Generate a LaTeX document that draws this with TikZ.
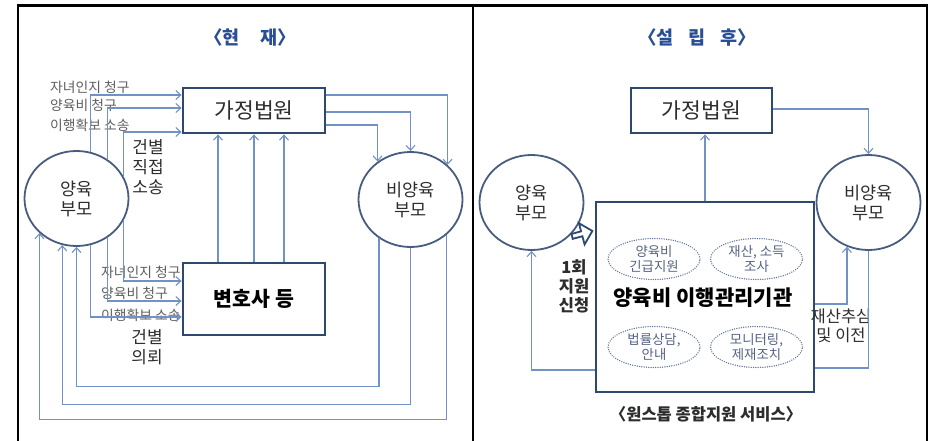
\documentclass[tikz,border=0pt]{standalone}
\usepackage{fontspec}
\setmainfont{Noto Sans CJK KR}
\usetikzlibrary{arrows.meta,shapes.geometric,shapes.arrows,calc}
\definecolor{boxc}{RGB}{47,72,110}
\definecolor{circc}{RGB}{72,92,128}
\definecolor{linec}{RGB}{112,146,196}
\definecolor{titlec}{RGB}{40,78,150}
\definecolor{labc}{RGB}{95,95,95}
\definecolor{dotc}{RGB}{100,118,155}
\definecolor{dottext}{RGB}{85,100,130}
\definecolor{txtc}{RGB}{45,45,45}
\begin{document}
\begin{tikzpicture}[x=1pt,y=-1pt,
  frame/.style={line width=2.7pt,black},
  boxn/.style={draw=boxc,line width=2.8pt,fill=white,inner sep=0pt,text=txtc},
  circn/.style={ellipse,draw=circc,line width=1.8pt,fill=white,minimum width=104pt,minimum height=95pt,inner sep=0pt,align=center,font=\fontsize{17.5}{20}\selectfont,text=txtc},
  conn/.style={draw=linec,line width=1.1pt},
  arr/.style={conn,-{Straight Barb[length=5pt,width=9pt]}},
  lab/.style={inner sep=0pt,anchor=west,font=\fontsize{13.8}{15}\selectfont,text=labc},
  mid/.style={inner sep=0pt,align=center,text=txtc},
  dotell/.style={ellipse,draw=dotc,line width=1.5pt,dash pattern=on 0.01pt off 2.3pt,line cap=round,minimum width=92pt,minimum height=41pt,inner sep=0pt,align=center,font=\fontsize{13.4}{15.5}\selectfont,text=dottext}]
\useasboundingbox (0,0) rectangle (934,441);
\fill[white] (0,0) rectangle (934,441);

% frames
\draw[frame] (16.6,5.8) -- (928.4,5.8);
\draw[frame] (18,5.8) -- (18,441);
\draw[frame] (473,5.8) -- (473,441);
\draw[frame] (927,5.8) -- (927,441);

% ================= left panel =================
\node[mid,font=\bfseries\fontsize{18.5}{20}\selectfont,text=titlec] (t1) at (250,37) {〈현\hspace{1.1em}재〉};

\node[lab] (l1) at (50,87) {자녀인지 청구};
\node[lab] (l2) at (50,105) {양육비 청구};
\node[lab] (l3) at (50,125) {이행확보 소송};
\node[lab] (l4) at (101,272) {자녀인지 청구};
\node[lab] (l5) at (101,293) {양육비 청구};
\node[lab] (l6) at (101,315) {이행확보 소송};
\node[mid,font=\fontsize{17}{20}\selectfont] (d1) at (148,167) {건별\\직접\\소송};
\node[mid,font=\fontsize{17}{20}\selectfont] (d2) at (147,347) {건별\\의뢰};

\node[circn] (pL) at (76.5,198.5) {양육\\부모};
\node[circn] (nL) at (410.5,199.5) {비양육\\부모};

\node[boxn,minimum width=142pt,minimum height=45pt,font=\fontsize{21.5}{24}\selectfont] (court) at (254,110.5) {가정법원};
\node[boxn,minimum width=142pt,minimum height=72pt,font=\bfseries\fontsize{20.5}{24}\selectfont,text=black] (lawyer) at (254,299) {변호사 등};

% parent -> court
\draw[arr] (pL.73.3) |- ($(court.west)+(0,-15.5)$);
\draw[arr] (pL.52.2) |- ($(court.west)+(0,-2.5)$);
\draw[arr] (pL.25.6) |- ($(court.west)+(0,21.5)$);
% parent -> lawyer
\draw[arr] (pL.-25.6) |- ($(lawyer.west)+(0,-18)$);
\draw[arr] (pL.-52.2) |- ($(lawyer.west)+(0,2)$);
\draw[arr] (pL.-73.3) |- ($(lawyer.west)+(0,18)$);
% lawyer -> court
\foreach \dx in {-36,0,30}
  \draw[arr] ($(lawyer.north)+(\dx,0)$) -- ($(court.south)+(\dx,0)$);
% court -> non-custodial
\draw[arr] ($(court.east)+(0,-15.5)$) -| (nL.43.1);
\draw[arr] ($(court.east)+(0,1.5)$) -| (nL.north);
\draw[arr] ($(court.east)+(0,14.5)$) -| (nL.131);
% non-custodial -> parent (bottom loops)
\draw[arr] (nL.231.8) |- ($(pL.south)+(0,140)$) -- (pL.south);
\draw[arr] (nL.south) |- ($(pL.253.3)+(0,159.6)$) -- (pL.253.3);
\draw[arr] (nL.-44.6) |- ($(pL.223.5)+(0,186.8)$) -- (pL.223.5);

% ================= right panel =================
\node[mid,font=\bfseries\fontsize{18.5}{20}\selectfont,text=titlec] (t2) at (697,37) {〈설\hspace{0.8em}립\hspace{0.8em}후〉};

\node[circn] (pR) at (531.5,202.5) {양육\\부모};
\node[circn] (nR) at (868.5,202.5) {비양육\\부모};

\node[boxn,minimum width=141pt,minimum height=45pt,font=\fontsize{21.5}{24}\selectfont] (court2) at (701.5,110.5) {가정법원};
\node[boxn,minimum width=218pt,minimum height=190pt] (agency) at (705,297) {};
\node[mid,font=\bfseries\fontsize{21}{24}\selectfont,text=black] (agt) at (703,298) {양육비 이행관리기관};

\node[dotell] (e1) at (654,259) {양육비\\긴급지원};
\node[dotell] (e2) at (756.5,259) {재산, 소득\\조사};
\node[dotell] (e3) at (654,347) {법률상담,\\안내};
\node[dotell] (e4) at (756.5,347) {모니터링,\\제재조치};

\node[mid,font=\bfseries\fontsize{16.5}{19}\selectfont] (apply) at (574,286) {1회\\지원\\신청};
\node[mid,font=\fontsize{16.5}{19}\selectfont] (rec) at (841,325.5) {재산추심\\및 이전};
\node[mid,font=\bfseries\fontsize{16.5}{19}\selectfont,text=txtc] (svc) at (706,414) {〈원스톱 종합지원 서비스〉};

\node[single arrow,draw=boxc,line width=1.8pt,fill=white,minimum width=22pt,minimum height=21pt,single arrow head extend=3pt,inner sep=0pt,rotate=15] (blk) at (581,234) {};

\draw[arr] (agency.north) -- (agency.north |- court2.south);
\draw[arr] ($(court2.east)+(0,-1.5)$) -| (nR.north);
\draw[arr] ($(agency.west)+(0,73)$) -| (pR.south);
\draw[arr] ($(agency.east)+(0,7)$) -| (nR.-116.4);
\draw[conn] (nR.south) |- ($(agency.east)+(0,71)$);
\end{tikzpicture}
\end{document}
